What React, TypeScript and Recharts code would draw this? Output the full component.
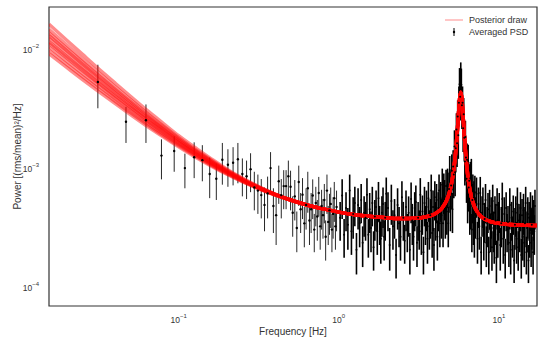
import {
  ComposedChart,
  Line,
  Scatter,
  ErrorBar,
  XAxis,
  YAxis,
  Legend,
  ReferenceArea,
} from "recharts";

// every power value below is in units of 1e-4 (rms/mean)^2/Hz
const UNIT = 1e-4;

// averaged PSD, lowest bins (one point per bin, df = 1/64 Hz)
const LOW_FREQ = [
  0.0313, 0.0469, 0.0625, 0.0781, 0.0938, 0.1094, 0.125, 0.1406, 0.1563, 0.1719,
  0.1875, 0.2031, 0.2188, 0.2344, 0.25, 0.2656, 0.2813, 0.2969, 0.3125, 0.3281,
  0.3438, 0.3594, 0.375, 0.3906, 0.4063, 0.4219, 0.4375, 0.4531, 0.4688, 0.4844,
  0.5, 0.5156, 0.5313, 0.5469, 0.5625, 0.5781, 0.5938, 0.6094, 0.625, 0.6406,
  0.6563, 0.6719, 0.6875, 0.7031, 0.7188, 0.7344, 0.75, 0.7656, 0.7813, 0.7969,
  0.8125, 0.8281, 0.8438, 0.8594, 0.875, 0.8906, 0.9063, 0.9219, 0.9375, 0.9531,
  0.9688,
];
const LOW_POWER = [
  54, 25, 25.8, 13.0, 14.2, 10.2, 12.6, 11.9, 9.1, 8.3,
  12.0, 10.9, 11.3, 12.1, 9.1, 8.7, 10.0, 7.0, 6.6, 6.05,
  5.0, 6.25, 10.2, 4.9, 4.1, 7.9, 6.05, 7.2, 7.2, 8.7,
  7.1, 4.3, 5.9, 3.2, 7.8, 4.6, 6.1, 3.5, 5.0, 6.9,
  3.7, 4.6, 6.0, 3.1, 5.2, 4.0, 6.3, 3.3, 4.9, 4.1,
  5.5, 2.7, 6.6, 3.6, 4.5, 5.1, 3.1, 4.2, 5.7, 3.3,
  4.8,
];
const LOW_ERR = [
  21.5, 8.4, 9.2, 4.8, 4.7, 3.3, 4.2, 4.0, 3.4, 2.8,
  4.6, 3.8, 4.0, 4.5, 3.2, 3.1, 3.6, 2.5, 2.4, 2.2,
  2.0, 2.4, 3.7, 2.0, 1.8, 2.8, 2.2, 2.6, 2.6, 3.1,
  2.6, 1.6, 2.2, 1.2, 2.9, 1.7, 2.3, 1.3, 1.9, 2.6,
  1.4, 1.7, 2.2, 1.1, 1.9, 1.5, 2.3, 1.2, 1.8, 1.5,
  2.0, 1.0, 2.4, 1.3, 1.7, 1.9, 1.1, 1.6, 2.1, 1.2,
  1.8,
];

// averaged PSD, 1 - 4.7 Hz (flat noise floor)
const MID_FREQ = [
  1.02, 1.05, 1.08, 1.11, 1.14, 1.17, 1.2, 1.23, 1.26, 1.29,
  1.32, 1.35, 1.38, 1.41, 1.44, 1.47, 1.5, 1.53, 1.56, 1.59,
  1.62, 1.65, 1.68, 1.71, 1.74, 1.77, 1.8, 1.83, 1.86, 1.89,
  1.92, 1.95, 1.98,
  2.03, 2.08, 2.13, 2.18, 2.23, 2.28, 2.33, 2.38, 2.43, 2.48,
  2.53, 2.58, 2.63, 2.68, 2.73, 2.78, 2.83, 2.88, 2.93, 2.98,
  3.03, 3.08, 3.13, 3.18, 3.23, 3.28, 3.33, 3.38, 3.43, 3.48,
  3.53, 3.58, 3.63, 3.68, 3.73, 3.78, 3.83, 3.88, 3.93, 3.98,
  4.03, 4.08, 4.13, 4.18, 4.23, 4.28, 4.33, 4.38, 4.43, 4.48,
  4.53, 4.58, 4.63, 4.68,
];
const MID_POWER = [
  3.9, 6.0, 2.8, 4.7, 3.4, 6.6, 3.0, 4.2, 5.2, 2.1,
  5.0, 3.5, 5.5, 2.4, 4.3, 3.9, 6.1, 2.8, 4.6, 3.2,
  5.2, 2.2, 4.0, 4.8, 3.0, 5.7, 3.6, 2.6, 4.3, 5.1,
  2.7, 3.9, 6.2,
  4.7, 2.3, 5.4, 3.3, 4.1, 1.9, 5.0, 3.5, 2.7, 5.8,
  3.9, 2.5, 4.8, 3.1, 4.3, 2.1, 5.6, 3.7, 2.7, 4.7,
  5.3, 2.4, 3.9, 3.3, 6.1, 3.0, 4.4, 2.0, 5.2, 3.6,
  4.8, 2.6, 5.7, 3.3, 4.1, 6.6, 2.9, 4.8, 2.3, 5.8,
  3.9, 5.5, 2.7, 4.7, 6.6, 3.5, 5.7, 4.1, 7.4, 3.5,
  6.7, 5.9, 4.1, 7.2,
];
const MID_ERR = [
  1.4, 2.2, 1.0, 1.7, 1.3, 2.4, 1.1, 1.6, 1.9, 0.8,
  1.9, 1.3, 2.0, 0.9, 1.6, 1.4, 2.3, 1.0, 1.7, 1.2,
  1.9, 0.8, 1.5, 1.8, 1.1, 2.1, 1.3, 1.0, 1.6, 1.9,
  1.0, 1.4, 2.3,
  1.7, 0.9, 2.0, 1.2, 1.5, 0.7, 1.9, 1.3, 1.0, 2.1,
  1.4, 0.9, 1.8, 1.1, 1.6, 0.8, 2.1, 1.4, 1.0, 1.7,
  2.0, 0.9, 1.4, 1.2, 2.3, 1.1, 1.6, 0.7, 1.9, 1.3,
  1.8, 1.0, 2.1, 1.2, 1.5, 2.4, 1.1, 1.8, 0.9, 2.1,
  1.4, 2.0, 1.0, 1.7, 2.4, 1.3, 2.1, 1.5, 2.7, 1.3,
  2.5, 2.2, 1.5, 2.7,
];

// averaged PSD around the QPO
const PEAK_FREQ = [
  4.73, 4.78, 4.83, 4.88, 4.93, 4.98, 5.03, 5.08, 5.13, 5.18,
  5.23, 5.28, 5.33, 5.38, 5.43, 5.48, 5.53, 5.58, 5.63, 5.68,
  5.73, 5.78, 5.83, 5.88, 5.93, 5.98, 6.03, 6.08, 6.13, 6.18,
  6.23, 6.28, 6.33, 6.38, 6.43, 6.48, 6.53, 6.58, 6.63, 6.68,
  6.73, 6.78, 6.83, 6.88, 6.93, 6.98, 7.03, 7.08,
];
const PEAK_POWER = [
  4.4, 7.4, 3.5, 6.8, 9.4, 4.8, 7.3, 9.7, 4.6, 10.5,
  9.0, 15.5, 9.4, 15.0, 21.5, 16.5, 27.7, 19.3, 36.2, 51.7,
  40.6, 57.7, 51.2, 34.5, 36.2, 22.1, 28.9, 18.4, 11.6, 18.6,
  12.5, 8.3, 12.0, 5.5, 11.7, 7.0, 8.0, 4.4, 8.4, 4.9,
  8.9, 3.1, 5.5, 6.6, 3.6, 5.8, 2.9, 6.4,
];
const PEAK_ERR = [
  1.6, 2.7, 1.3, 2.5, 3.5, 1.8, 2.7, 3.6, 1.7, 3.9,
  3.3, 5.7, 3.5, 5.6, 8.0, 6.1, 10.2, 7.1, 13.4, 19.1,
  15.0, 21.3, 18.9, 12.8, 13.4, 8.2, 10.7, 6.8, 4.3, 6.9,
  4.6, 3.1, 4.4, 2.0, 4.3, 2.6, 3.0, 1.6, 3.1, 1.8,
  3.3, 1.1, 2.0, 2.4, 1.3, 2.1, 1.1, 2.4,
];

// averaged PSD above the QPO
const HIGH_FREQ = [
  7.15, 7.25, 7.35, 7.45, 7.55, 7.65, 7.75, 7.85, 7.95, 8.05,
  8.15, 8.25, 8.35, 8.45, 8.55, 8.65, 8.75, 8.85, 8.95, 9.05,
  9.15, 9.25, 9.35, 9.45, 9.55, 9.65, 9.75, 9.85, 9.95, 10.05,
  10.2, 10.35, 10.5, 10.65, 10.8, 10.95, 11.1, 11.25, 11.4, 11.55,
  11.7, 11.85, 12.0, 12.15, 12.3, 12.45, 12.6, 12.75, 12.9, 13.05,
  13.2, 13.35, 13.5, 13.65, 13.8, 13.95, 14.1, 14.25, 14.4, 14.55,
  14.7, 14.85, 15.0, 15.15, 15.3, 15.45, 15.6, 15.75, 15.9, 16.05,
  16.2, 16.35, 16.5, 16.65, 16.8,
];
const HIGH_POWER = [
  4.2, 6.2, 2.6, 5.1, 3.3, 6.3, 2.0, 4.3, 5.1, 2.7,
  3.8, 5.5, 2.4, 3.5, 4.6, 2.0, 4.9, 3.1, 4.2, 2.2,
  5.4, 3.2, 2.5, 4.3, 3.7, 1.8, 5.0, 2.8, 3.9, 4.6,
  2.3, 3.5, 5.6, 2.6, 4.2, 1.9, 4.7, 3.1, 3.6, 2.4,
  5.0, 2.1, 3.9, 2.9, 4.4, 1.7, 3.4, 4.3, 2.6, 5.1,
  2.2, 3.7, 3.1, 4.7, 1.9, 4.1, 2.7, 4.5, 2.4, 3.5,
  5.2, 2.0, 3.2, 4.2, 1.7, 3.9, 2.9, 4.7, 2.4, 3.4,
  4.4, 2.0, 4.0, 3.0, 4.9,
];
const HIGH_ERR = [
  1.6, 2.3, 1.0, 1.9, 1.2, 2.3, 0.7, 1.6, 1.9, 1.0,
  1.4, 2.0, 0.9, 1.3, 1.7, 0.7, 1.8, 1.1, 1.6, 0.8,
  2.0, 1.2, 0.9, 1.6, 1.4, 0.7, 1.9, 1.0, 1.4, 1.7,
  0.9, 1.3, 2.1, 1.0, 1.6, 0.7, 1.7, 1.1, 1.3, 0.9,
  1.9, 0.8, 1.4, 1.1, 1.6, 0.6, 1.3, 1.6, 1.0, 1.9,
  0.8, 1.4, 1.1, 1.7, 0.7, 1.5, 1.0, 1.7, 0.9, 1.3,
  1.9, 0.7, 1.2, 1.6, 0.6, 1.4, 1.1, 1.7, 0.9, 1.3,
  1.6, 0.7, 1.5, 1.1, 1.8,
];

// posterior draws: they spread out below 0.5 Hz and share one curve above it
const DRAW_HEAD_FREQ = [
  0.0155, 0.02, 0.025, 0.032, 0.04, 0.05, 0.065, 0.08, 0.1, 0.13, 0.16, 0.2, 0.25, 0.32, 0.4,
];
const DRAW_1 = [93.3, 71.7, 57.0, 44.5, 35.7, 28.8, 22.5, 18.7, 15.4, 12.4, 10.6, 9.05, 7.84, 6.8, 6.06];
const DRAW_2 = [99.7, 76.2, 60.4, 46.8, 37.4, 29.9, 23.3, 19.2, 15.8, 12.7, 10.8, 9.16, 7.9, 6.83, 6.08];
const DRAW_3 = [106.7, 81.1, 63.9, 49.3, 39.1, 31.2, 24.1, 19.8, 16.2, 12.9, 10.9, 9.27, 7.97, 6.86, 6.09];
const DRAW_4 = [114.1, 86.2, 67.6, 51.9, 41.0, 32.5, 25.0, 20.4, 16.6, 13.2, 11.1, 9.37, 8.03, 6.89, 6.1];
const DRAW_5 = [118.0, 88.9, 69.5, 53.2, 41.9, 33.2, 25.4, 20.8, 16.8, 13.3, 11.2, 9.43, 8.06, 6.9, 6.11];
const DRAW_6 = [126.4, 94.6, 73.6, 56.0, 43.9, 34.6, 26.4, 21.4, 17.3, 13.6, 11.4, 9.54, 8.13, 6.94, 6.12];
const DRAW_7 = [132.9, 99.2, 76.8, 58.3, 45.5, 35.7, 27.0, 21.9, 17.6, 13.8, 11.5, 9.63, 8.17, 6.96, 6.13];
const DRAW_8 = [139.9, 103.8, 80.2, 60.6, 47.1, 36.9, 27.8, 22.4, 17.9, 14.0, 11.7, 9.71, 8.23, 6.98, 6.14];
const DRAW_9 = [149.6, 110.6, 85.0, 63.8, 49.4, 38.4, 28.8, 23.1, 18.4, 14.3, 11.9, 9.83, 8.29, 7.02, 6.15];
const DRAW_10 = [165.7, 121.4, 92.7, 68.9, 53.1, 41.0, 30.4, 24.3, 19.1, 14.8, 12.2, 10.0, 8.4, 7.07, 6.17];

const DRAW_TAIL_FREQ = [
  0.5, 0.65, 0.8, 1.0, 1.3, 1.6, 2.0, 2.5, 3.0, 3.5, 4.0, 4.4, 4.7, 4.9, 5.1, 5.3, 5.4, 5.5,
  5.6, 5.7, 5.78, 5.86, 5.96, 6.06, 6.16, 6.3, 6.5, 6.7, 7.0, 7.4, 8.0, 9.0, 10.5, 12.5, 15, 17.3,
];
const DRAW_TAIL = [
  5.5, 4.95, 4.63, 4.35, 4.12, 3.99, 3.89, 3.85, 3.87, 3.97, 4.22, 4.68, 5.39, 6.29, 7.99, 11.64,
  15.13, 20.8, 29.7, 40.3, 44.4, 40.3, 29.7, 20.8, 15.1, 10.6, 7.5, 6.01, 4.93, 4.28, 3.86, 3.6,
  3.47, 3.4, 3.37, 3.36,
];

const X_DOMAIN = [0.0155, 17.3];
const Y_DOMAIN = [7.06e-5, 0.0231];
const FONT = '"Liberation Sans", Arial, sans-serif';
const TEXT = "#333";
const FRAME = "#333";

const toRows = (freq: number[], power: number[], err: number[]) =>
  freq.map((f, i) => ({ f, p: power[i] * UNIT, err: err[i] * UNIT }));

const psdLow = toRows(LOW_FREQ, LOW_POWER, LOW_ERR);
const psdDense = [
  ...toRows(MID_FREQ, MID_POWER, MID_ERR),
  ...toRows(PEAK_FREQ, PEAK_POWER, PEAK_ERR),
  ...toRows(HIGH_FREQ, HIGH_POWER, HIGH_ERR),
];

const tail = DRAW_TAIL_FREQ.map((f, i) => ({ f, p: DRAW_TAIL[i] * UNIT }));
const draws = [
  DRAW_1, DRAW_2, DRAW_3, DRAW_4, DRAW_5, DRAW_6, DRAW_7, DRAW_8, DRAW_9, DRAW_10,
].map((head) => [...DRAW_HEAD_FREQ.map((f, i) => ({ f, p: head[i] * UNIT })), ...tail]);

const sup = (e: number) => (e < 0 ? "\u2212" + -e : String(e));

const XTick = ({ x, y, payload }: any) => {
  const e = Math.round(Math.log10(payload.value));
  return (
    <text x={x} y={y + 17} textAnchor="middle" fontFamily={FONT} fontSize={8.5} fill={TEXT}>
      10
      <tspan dy={-5} fontSize={6}>
        {sup(e)}
      </tspan>
    </text>
  );
};

const YTick = ({ x, y, payload }: any) => {
  const e = Math.round(Math.log10(payload.value));
  return (
    <text x={x - 10} y={y + 3} textAnchor="end" fontFamily={FONT} fontSize={8.5} fill={TEXT}>
      10
      <tspan dy={-5} fontSize={6}>
        {sup(e)}
      </tspan>
    </text>
  );
};

const dot = (props: any) => <circle cx={props.cx} cy={props.cy} r={1.2} fill="#000" />;
const smallDot = (props: any) => <circle cx={props.cx} cy={props.cy} r={1} fill="#000" />;

const renderLegend = () => (
  <div style={{ fontFamily: FONT, fontSize: 9, color: TEXT, lineHeight: "12px" }}>
    <div style={{ display: "flex", alignItems: "center", height: 12 }}>
      <svg width={26} height={12}>
        <line x1={2} y1={6} x2={20} y2={6} stroke="#ff0000" strokeOpacity={0.3} strokeWidth={1.5} />
      </svg>
      <span>Posterior draw</span>
    </div>
    <div style={{ display: "flex", alignItems: "center", height: 12 }}>
      <svg width={26} height={12}>
        <line x1={11} y1={2} x2={11} y2={10} stroke="#000" strokeWidth={1} />
        <circle cx={11} cy={6} r={1.2} fill="#000" />
      </svg>
      <span>Averaged PSD</span>
    </div>
  </div>
);

export default function App() {
  return (
    <div style={{ position: "absolute", left: 0, top: 0, background: "#fff" }}>
      <ComposedChart width={545} height={347} margin={{ top: 7, right: 8, bottom: 0, left: 0 }}>
        <XAxis
          dataKey="f"
          type="number"
          scale="log"
          domain={X_DOMAIN}
          allowDataOverflow
          ticks={[0.1, 1, 10]}
          tick={<XTick />}
          tickLine={false}
          tickSize={0}
          tickMargin={0}
          height={41}
          axisLine={false}
          label={{
            value: "Frequency [Hz]",
            position: "insideBottom",
            offset: 12,
            style: { fontFamily: FONT, fontSize: 10, fill: TEXT },
          }}
        />
        <YAxis
          dataKey="p"
          type="number"
          scale="log"
          domain={Y_DOMAIN}
          allowDataOverflow
          ticks={[1e-4, 1e-3, 1e-2]}
          tick={<YTick />}
          tickLine={false}
          tickSize={0}
          tickMargin={0}
          width={49}
          axisLine={false}
          label={{
            value: "Power [(rms/mean)\u00b2/Hz]",
            angle: -90,
            position: "insideLeft",
            offset: 17,
            style: { textAnchor: "middle", fontFamily: FONT, fontSize: 10, fill: TEXT },
          }}
        />
        <Scatter data={psdLow} dataKey="p" shape={dot} isAnimationActive={false}>
          <ErrorBar dataKey="err" direction="y" width={0} stroke="#000" strokeOpacity={0.85} strokeWidth={1} />
        </Scatter>
        <Scatter data={psdDense} dataKey="p" shape={smallDot} isAnimationActive={false}>
          <ErrorBar dataKey="err" direction="y" width={0} stroke="#000" strokeWidth={1.6} />
        </Scatter>
        {draws.map((d, i) => (
          <Line
            key={i}
            data={d}
            dataKey="p"
            type="monotone"
            stroke="#ff0000"
            strokeOpacity={0.45}
            strokeWidth={3.5}
            dot={false}
            activeDot={false}
            isAnimationActive={false}
          />
        ))}
        <ReferenceArea
          x1={X_DOMAIN[0]}
          x2={X_DOMAIN[1]}
          y1={Y_DOMAIN[0]}
          y2={Y_DOMAIN[1]}
          fill="none"
          stroke={FRAME}
          strokeWidth={1.2}
          ifOverflow="visible"
        />
        <Legend
          content={renderLegend}
          layout="vertical"
          align="center"
          verticalAlign="middle"
          wrapperStyle={{ left: 443, top: 13.5, width: 100 }}
        />
      </ComposedChart>
    </div>
  );
}
